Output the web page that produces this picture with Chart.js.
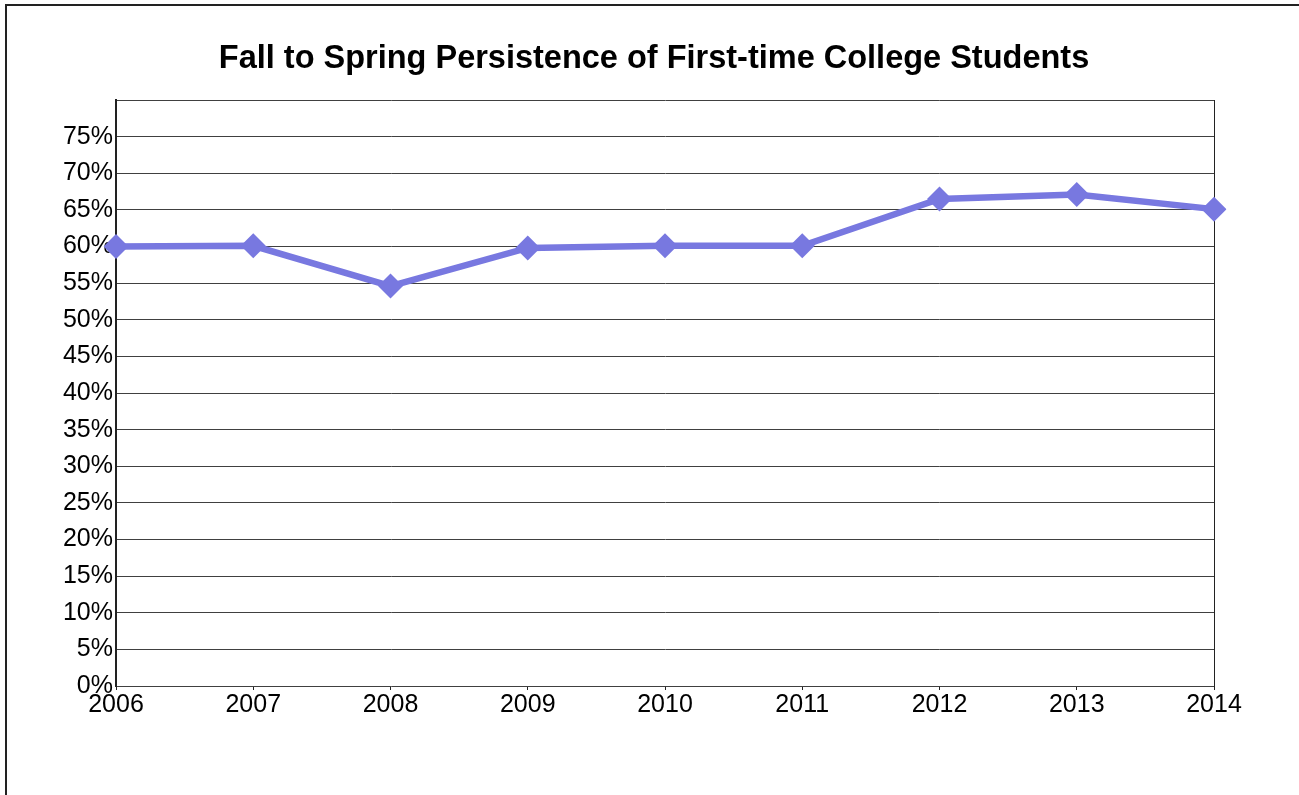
<!DOCTYPE html>
<html>
<head>
<meta charset="utf-8">
<script src="https://cdn.jsdelivr.net/npm/chart.js@4/dist/chart.umd.min.js"></script>
<style>
    html, body { margin: 0; padding: 0; background: #fff; overflow: hidden; }
    #frame { position: absolute; left: 5px; top: 4px; width: 1400px; height: 900px;
             border-left: 2px solid #222; border-top: 2px solid #222; }
    #chart { position: absolute; left: 0; top: 0; }
</style>
</head>
<body>
<div id="frame"></div>
<canvas id="chart" width="1299" height="795"></canvas>
<script>
const years = ['2006', '2007', '2008', '2009', '2010', '2011', '2012', '2013', '2014'];
const persistence = [60.0, 60.1, 54.6, 59.8, 60.1, 60.1, 66.5, 67.1, 65.1];
const chartTitle = 'Fall to Spring Persistence of First-time College Students';

const fontFamily = 'Liberation Sans, Arial, sans-serif';

window.onload = function () {
    const ctx = document.getElementById('chart');
    new Chart(ctx, {
        type: 'line',
        data: {
            labels: years,
            datasets: [{
                data: persistence,
                borderColor: '#7878e0',
                backgroundColor: '#7878e0',
                borderWidth: 6.5,
                pointStyle: 'rectRot',
                pointRadius: 12.5,
                pointBorderWidth: 0,
                tension: 0
            }]
        },
        options: {
            responsive: false,
            animation: false,
            layout: { padding: { left: 9, top: 0, right: 0, bottom: 69 } },
            plugins: {
                legend: { display: false },
                tooltip: { enabled: false },
                title: {
                    display: true,
                    text: chartTitle,
                    color: '#000',
                    font: { family: fontFamily, size: 32.5, weight: 'bold', lineHeight: 1.2 },
                    padding: { top: 40, bottom: 21 }
                }
            },
            scales: {
                x: {
                    offset: false,
                    afterFit: function (scale) { scale.height = 40; },
                    grid: {
                        color: c => c.index === years.length - 1 ? '#222' : 'rgba(0,0,0,0)',
                        tickColor: '#222',
                        tickLength: 4,
                        drawTicks: true
                    },
                    border: { display: false },
                    ticks: {
                        color: '#000',
                        padding: 0,
                        maxRotation: 0,
                        autoSkip: false,
                        font: { family: fontFamily, size: 25 }
                    }
                },
                y: {
                    min: 0,
                    max: 80,
                    afterFit: function (scale) { scale.width = 107; },
                    grid: { color: '#404040', lineWidth: 1, drawTicks: false },
                    border: { color: '#222', width: 2 },
                    ticks: {
                        stepSize: 5,
                        color: '#000',
                        padding: 3,
                        font: { family: fontFamily, size: 25 },
                        callback: v => v >= 80 ? '' : v + '%'
                    }
                },
                // empty right axis, only keeps the plot away from the right edge
                y2: {
                    type: 'linear',
                    position: 'right',
                    afterFit: function (scale) { scale.width = 85; },
                    grid: { display: false },
                    border: { display: false },
                    ticks: { display: false }
                }
            }
        }
    });
};
</script>
</body>
</html>
